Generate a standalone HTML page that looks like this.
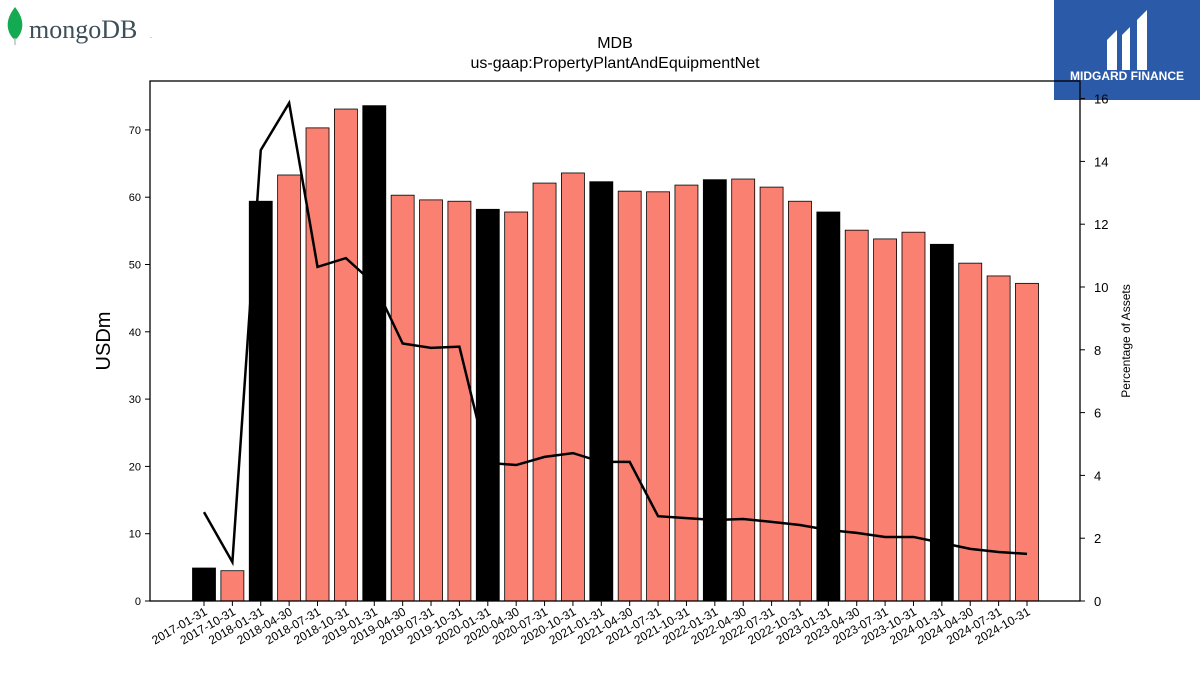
<!DOCTYPE html>
<html><head><meta charset="utf-8">
<style>
body{margin:0;background:#fff;font-family:"Liberation Sans","DejaVu Sans",sans-serif;}
#wrap{position:relative;width:1200px;height:675px;overflow:hidden;}
</style></head>
<body>
<div id="wrap">
<svg id="chart" width="1200" height="675" xmlns="http://www.w3.org/2000/svg">
  <g>
    <path d="M15,7 C8,16 6,24 9,32 C11,37 14,39 15,40 C16,39 19,37 21,32 C24,24 22,16 15,7 Z" fill="#13aa52"/>
    <line x1="15" y1="38" x2="15" y2="45" stroke="#b8c4c2" stroke-width="1.5"/>
    <text x="29" y="38" font-family="Liberation Serif, serif" font-size="26" fill="#3d4f58">mongoDB</text>
    <text x="150" y="38" font-size="7" fill="#3d4f58">.</text>
  </g>
  <g>
    <rect x="1054" y="0" width="146" height="100" fill="#2b5aa8"/>
    <path d="M1107,70 L1107,40 L1117,30 L1117,70 Z M1122,70 L1122,35 L1130,27 L1130,70 Z M1137,70 L1137,20 L1147,10 L1147,70 Z" fill="#fff"/>
    <text x="1127" y="80" font-size="12" font-weight="bold" fill="#fff" text-anchor="middle">MIDGARD FINANCE</text>
  </g>
  <text x="615" y="48" font-size="16" text-anchor="middle">MDB</text>
  <text x="615" y="68" font-size="16" text-anchor="middle">us-gaap:PropertyPlantAndEquipmentNet</text>
  <g id="bars"></g>
  <g id="line"></g>
  <rect x="150" y="81" width="930" height="520" fill="none" stroke="#000" stroke-width="1.3"/>
  <g id="yaxis"></g>
  <g id="y2axis"></g>
  <g id="xaxis"></g>
  <text x="110" y="341" font-size="20" text-anchor="middle" transform="rotate(-90 110 341)">USDm</text>
  <text x="1130" y="341" font-size="12" text-anchor="middle" transform="rotate(-90 1130 341)">Percentage of Assets</text>
</svg>
</div>
<script>
const categories=["2017-01-31","2017-10-31","2018-01-31","2018-04-30","2018-07-31","2018-10-31","2019-01-31","2019-04-30","2019-07-31","2019-10-31","2020-01-31","2020-04-30","2020-07-31","2020-10-31","2021-01-31","2021-04-30","2021-07-31","2021-10-31","2022-01-31","2022-04-30","2022-07-31","2022-10-31","2023-01-31","2023-04-30","2023-07-31","2023-10-31","2024-01-31","2024-04-30","2024-07-31","2024-10-31"];
const values=[4.9,4.5,59.4,63.3,70.3,73.1,73.6,60.3,59.6,59.4,58.2,57.8,62.1,63.6,62.3,60.9,60.8,61.8,62.6,62.7,61.5,59.4,57.8,55.1,53.8,54.8,53.0,50.2,48.3,47.2];
const pct=[2.83,1.24,14.36,15.86,10.64,10.92,10.1,8.2,8.06,8.1,4.4,4.33,4.59,4.71,4.43,4.43,2.7,2.64,2.58,2.61,2.52,2.42,2.26,2.17,2.04,2.04,1.85,1.66,1.56,1.5];
const yTicks=[0,10,20,30,40,50,60,70];
const y2Ticks=[0,2,4,6,8,10,12,14,16];
const NS="http://www.w3.org/2000/svg";
const x0=204,step=(1027-204)/29,bw=23;
const xs=i=>x0+i*step;
const ys=v=>601-v*6.73;
const ys2=v=>601-v*31.4;
function mk(t,a,p){const e=document.createElementNS(NS,t);for(const k in a)e.setAttribute(k,a[k]);p.appendChild(e);return e;}
const bars=document.getElementById('bars');
categories.forEach((c,i)=>{
  const black=c.slice(5,7)==="01";
  const r=mk('rect',{x:xs(i)-bw/2,y:ys(values[i]),width:bw,height:601-ys(values[i]),fill:black?'#000':'#fa8072',stroke:'#000','stroke-width':0.8},bars);
  
  
});
const lg=document.getElementById('line');
const pl=mk('polyline',{points:pct.map((v,i)=>xs(i)+','+ys2(v)).join(' '),fill:'none',stroke:'#000','stroke-width':2.5},lg);


const ya=document.getElementById('yaxis');
yTicks.forEach(v=>{
  mk('line',{x1:145,x2:150,y1:ys(v),y2:ys(v),stroke:'#000'},ya);
  const t=mk('text',{x:141,y:ys(v)+4,'font-size':11,'text-anchor':'end'},ya);t.textContent=v;
  
  
});
const y2=document.getElementById('y2axis');
y2Ticks.forEach(v=>{
  mk('line',{x1:1080,x2:1085,y1:ys2(v),y2:ys2(v),stroke:'#000'},y2);
  const t=mk('text',{x:1094,y:ys2(v)+5,'font-size':13},y2);t.textContent=v;
  
  
});
const xa=document.getElementById('xaxis');
categories.forEach((c,i)=>{
  const x=xs(i);
  mk('line',{x1:x,x2:x,y1:601,y2:606,stroke:'#000'},xa);
  const t=mk('text',{x:x+4,y:614,'font-size':12,'text-anchor':'end',transform:`rotate(-30 ${x+4} 614)`},xa);
  t.textContent=c;
  
  
});
</script>
</body></html>
